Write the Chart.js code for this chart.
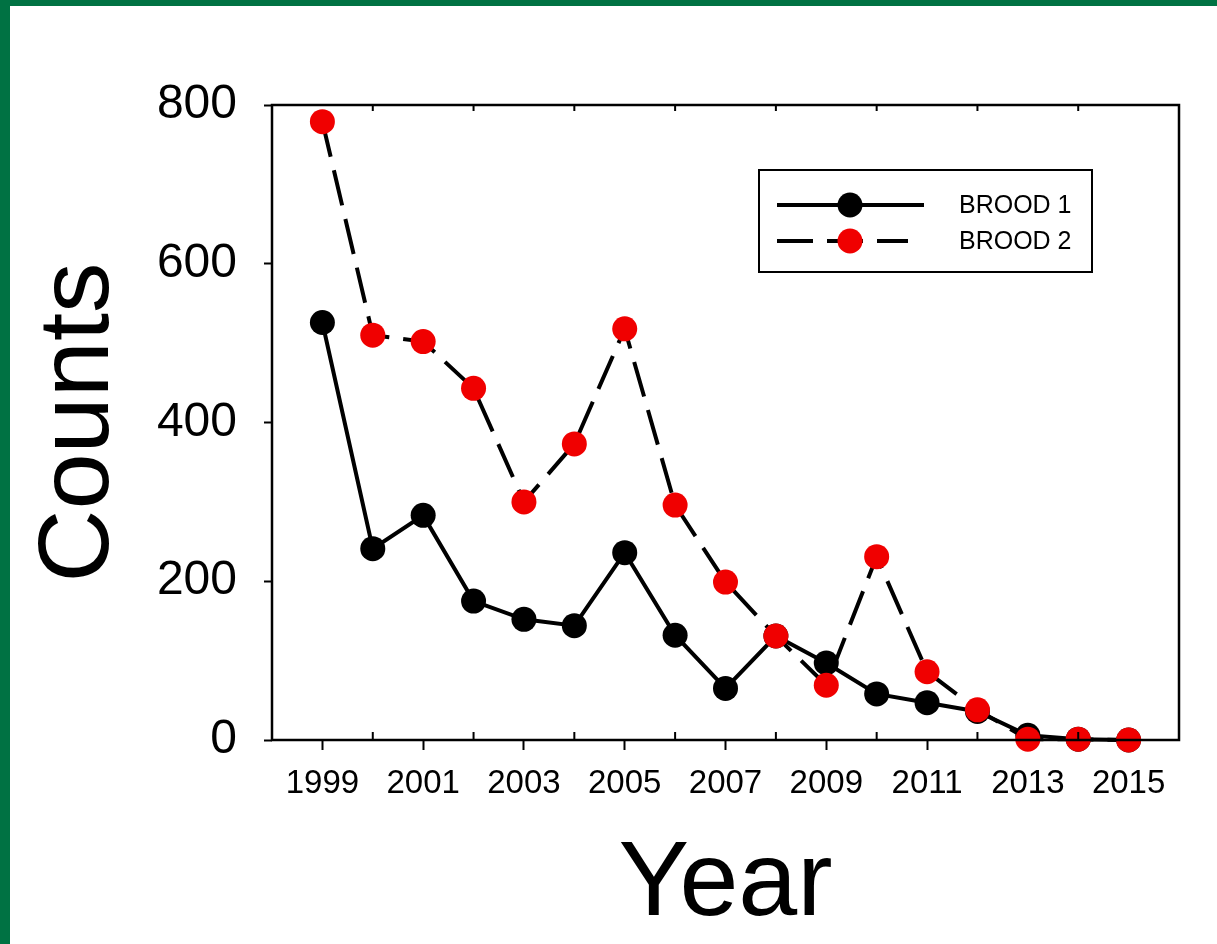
<!DOCTYPE html>
<html>
<head>
<meta charset="utf-8">
<script src="https://cdn.jsdelivr.net/npm/chart.js@4.4.1/dist/chart.umd.min.js"></script>
<style>
    html, body { margin: 0; padding: 0; background: #fff; }
    #wrap {
        width: 1207px;
        height: 938px;
        border-left: 10px solid #007243;
        border-top: 6px solid #007243;
        background: #fff;
    }
    #graphe { display: block; }
</style>
</head>
<body>
<div id="wrap"><canvas id="graphe" width="1207" height="938"></canvas></div>
<script>
// valeurs
const years = [1999, 2000, 2001, 2002, 2003, 2004, 2005, 2006, 2007, 2008, 2009, 2010, 2011, 2012, 2013, 2014, 2015];
const brood1 = [526, 241, 283, 175, 152, 144, 236, 132, 65, 131, 97, 58, 47, 36, 6, 1, 0];
const brood2 = [779, 510, 502, 443, 300, 373, 518, 296, 199, 131, 69, 231, 86, 38, 1, 1, 0];
const labelTicks = [1999, 2001, 2003, 2005, 2007, 2009, 2011, 2013, 2015];
const minorTicks = [2000, 2002, 2004, 2006, 2008, 2010, 2012, 2014];
const yTicks = [0, 200, 400, 600, 800];
const seriesNames = ['BROOD 1', 'BROOD 2'];

const FONT = '"Liberation Sans", Arial, sans-serif';

function toPoints(values) {
    return years.map((y, i) => ({ x: y, y: values[i] }));
}

// cadre, petites graduations internes et légende
const framePlugin = {
    id: 'frame',
    afterDraw(chart) {
        const ctx = chart.ctx;
        const a = chart.chartArea;
        const xs = chart.scales.x;
        ctx.save();
        ctx.strokeStyle = '#000';
        ctx.lineWidth = 2.5;
        ctx.strokeRect(a.left, a.top, a.right - a.left, a.bottom - a.top);

        ctx.lineWidth = 2;
        minorTicks.forEach(v => {
            const px = xs.getPixelForValue(v);
            ctx.beginPath();
            ctx.moveTo(px, a.bottom);
            ctx.lineTo(px, a.bottom - 8);
            ctx.moveTo(px, a.top);
            ctx.lineTo(px, a.top + 6);
            ctx.stroke();
        });

        // légende
        const bx = a.right - 420, by = a.top + 65, bw = 333, bh = 102;
        ctx.lineWidth = 2;
        ctx.strokeRect(bx, by, bw, bh);
        chart.data.datasets.forEach((ds, i) => {
            const row = by + 35 + i * 36;
            ctx.strokeStyle = '#000';
            ctx.lineWidth = 4;
            ctx.setLineDash(ds.borderDash || []);
            ctx.beginPath();
            ctx.moveTo(bx + 18, row);
            ctx.lineTo(bx + (ds.borderDash ? 149 : 165), row);
            ctx.stroke();
            ctx.setLineDash([]);
            ctx.fillStyle = ds.pointBackgroundColor;
            ctx.beginPath();
            ctx.arc(bx + 91, row, 12.5, 0, Math.PI * 2);
            ctx.fill();
            ctx.fillStyle = '#000';
            ctx.font = '25px ' + FONT;
            ctx.textBaseline = 'middle';
            ctx.textAlign = 'left';
            ctx.fillText(ds.label, bx + 200, row + 1);
        });
        ctx.restore();
    }
};

const ctx = document.getElementById('graphe').getContext('2d');
const chartInstance = new Chart(ctx, {
    type: 'line',
    data: {
        datasets: [{
            label: seriesNames[0],
            data: toPoints(brood1),
            borderColor: '#000',
            borderWidth: 4,
            pointRadius: 12.5,
            pointHoverRadius: 12.5,
            pointBorderWidth: 0,
            pointBackgroundColor: '#000',
            pointBorderColor: '#000',
            fill: false,
            tension: 0,
            clip: false,
            order: 1
        }, {
            label: seriesNames[1],
            data: toPoints(brood2),
            borderColor: '#000',
            borderWidth: 4,
            borderDash: [36, 14],
            pointRadius: 12.5,
            pointHoverRadius: 12.5,
            pointBorderWidth: 0,
            pointBackgroundColor: '#f00000',
            pointBorderColor: '#f00000',
            fill: false,
            tension: 0,
            clip: false,
            order: 0
        }]
    },
    options: {
        responsive: false,
        animation: false,
        events: [],
        layout: { padding: { top: 99, right: 38, left: 0, bottom: 0 } },
        plugins: {
            legend: { display: false },
            tooltip: { enabled: false }
        },
        scales: {
            x: {
                type: 'linear',
                min: 1998,
                max: 2016,
                afterBuildTicks: scale => {
                    scale.ticks = labelTicks.map(v => ({ value: v }));
                },
                afterFit: scale => { scale.height = 204; },
                ticks: {
                    autoSkip: false,
                    maxRotation: 0,
                    padding: 14,
                    color: '#000',
                    font: { family: FONT, size: 33 },
                    callback: v => String(v)
                },
                grid: {
                    drawOnChartArea: false,
                    drawTicks: true,
                    tickLength: 10,
                    tickWidth: 2,
                    tickColor: '#000'
                },
                border: { display: false },
                title: {
                    display: true,
                    text: 'Year',
                    color: '#000',
                    font: { family: FONT, size: 106, lineHeight: 1 },
                    padding: { top: 0, bottom: 5 }
                }
            },
            y: {
                min: 0,
                max: 800,
                afterBuildTicks: scale => {
                    scale.ticks = yTicks.map(v => ({ value: v }));
                },
                afterFit: scale => { scale.width = 262; },
                ticks: {
                    padding: 27,
                    color: '#000',
                    font: { family: FONT, size: 48 }
                },
                grid: {
                    drawOnChartArea: false,
                    drawTicks: true,
                    tickLength: 8,
                    tickWidth: 2,
                    tickColor: '#000'
                },
                border: { display: false },
                title: {
                    display: true,
                    text: 'Counts',
                    color: '#000',
                    font: { family: FONT, size: 101, lineHeight: 1 },
                    padding: { top: 20, bottom: 0 }
                }
            }
        }
    },
    plugins: [framePlugin]
});
</script>
</body>
</html>
